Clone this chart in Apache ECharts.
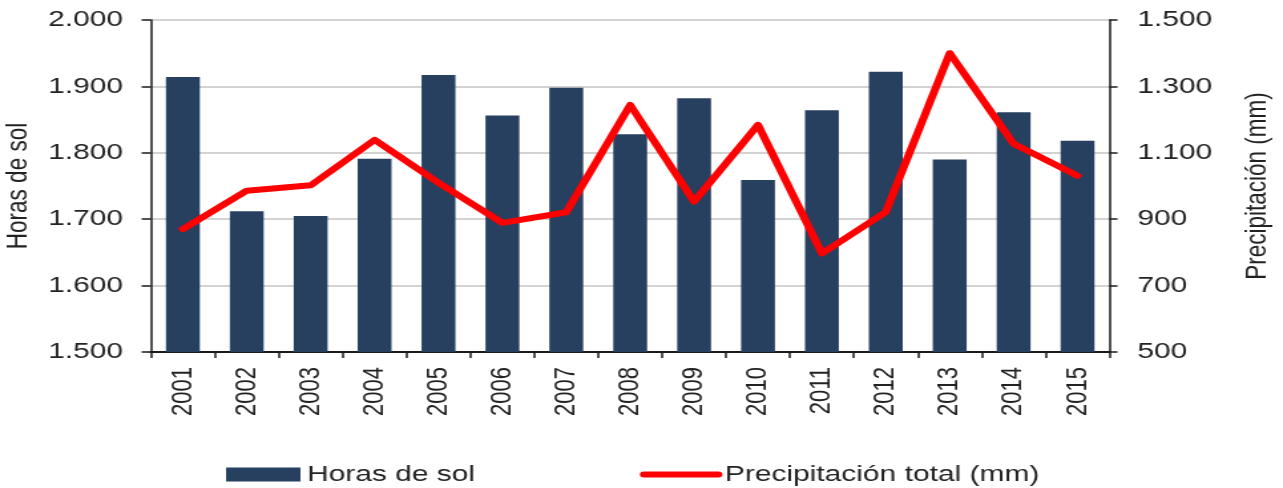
<!DOCTYPE html>
<html>
<head>
<meta charset="utf-8">
<script src="https://cdn.jsdelivr.net/npm/echarts@6/dist/echarts.min.js"></script>
<style>
html,body{margin:0;padding:0;background:#fff;overflow:hidden;}
#wrap{width:1283px;height:488px;overflow:hidden;}
#c{width:965px;height:488px;transform:scaleX(1.3295);transform-origin:0 0;}
</style>
</head>
<body>
<div id="wrap"><div id="c"></div></div>
<script>
const years = ['2001','2002','2003','2004','2005','2006','2007','2008','2009','2010','2011','2012','2013','2014','2015'];
const horasSol = [1914, 1712, 1705, 1791, 1917, 1856, 1898, 1828, 1882, 1759, 1864, 1922, 1790, 1861, 1818];
const precipitacion = [870, 986, 1002, 1139, 1010, 889, 921, 1244, 953, 1184, 797, 922, 1400, 1127, 1031];
const seriesNames = ['Horas de sol', 'Precipitación total (mm)'];
const axisNames = ['Horas de sol', 'Precipitación (mm)'];

const fmt = v => v >= 1000 ? Math.floor(v/1000) + '.' + String(v % 1000).padStart(3, '0') : String(v);
const FONT = 'Liberation Sans, Arial, sans-serif';
const TXT = '#222';

const chart = echarts.init(document.getElementById('c'), null, {renderer: 'canvas'});
chart.setOption({
  animation: false,
  grid: {left: 113.5, right: 130.5, top: 20, bottom: 136, containLabel: false, outerBoundsMode: 'none'},
  legend: {
    left: 165, top: 458,
    itemWidth: 56, itemHeight: 14, itemGap: 124,
    textStyle: {fontFamily: FONT, fontSize: 22.5, color: TXT},
    data: [
      {name: seriesNames[0], icon: 'rect'},
      {name: seriesNames[1], itemStyle: {opacity: 0}, lineStyle: {width: 6, color: '#ff0000', cap: 'round'}}
    ]
  },
  xAxis: {
    type: 'category', data: years, boundaryGap: true,
    axisLine: {show: true, lineStyle: {color: '#1a1a1a', width: 2}},
    axisTick: {show: true, length: 6, alignWithLabel: false, interval: 0, lineStyle: {color: '#1a1a1a', width: 1.5}},
    axisLabel: {rotate: 90, margin: 15, interval: 0, fontFamily: FONT, fontSize: 22, color: TXT}
  },
  yAxis: [
    {
      type: 'value', min: 1500, max: 2000, interval: 100, position: 'left',
      name: axisNames[0], nameLocation: 'middle', nameRotate: 90, nameGap: 81,
      nameTextStyle: {fontFamily: FONT, fontSize: 22.5, color: TXT},
      axisLine: {show: true, lineStyle: {color: '#1a1a1a', width: 1.5}},
      axisTick: {show: true, length: 7, lineStyle: {color: '#1a1a1a', width: 1.5}},
      axisLabel: {margin: 21, formatter: fmt, fontFamily: FONT, fontSize: 22.5, color: TXT},
      splitLine: {show: true, lineStyle: {color: '#c4c4c4', width: 1.5}}
    },
    {
      type: 'value', min: 500, max: 1500, interval: 200, position: 'right',
      name: axisNames[1], nameLocation: 'middle', nameRotate: 90, nameGap: 100,
      nameTextStyle: {fontFamily: FONT, fontSize: 22.5, color: TXT},
      axisLine: {show: true, lineStyle: {color: '#1a1a1a', width: 1.5}},
      axisTick: {show: true, length: 6, lineStyle: {color: '#1a1a1a', width: 1.5}},
      axisLabel: {margin: 21, formatter: fmt, fontFamily: FONT, fontSize: 22.5, color: TXT},
      splitLine: {show: false}
    }
  ],
  series: [
    {
      name: seriesNames[0], type: 'bar', yAxisIndex: 0, data: horasSol,
      barWidth: '53%',
      itemStyle: {color: '#27405f'}
    },
    {
      name: seriesNames[1], type: 'line', yAxisIndex: 1, data: precipitacion,
      symbol: 'none', showSymbol: false,
      lineStyle: {color: '#ff0000', width: 6, join: 'round', cap: 'round'},
      itemStyle: {color: '#ff0000'}
    }
  ]
});
</script>
</body>
</html>
